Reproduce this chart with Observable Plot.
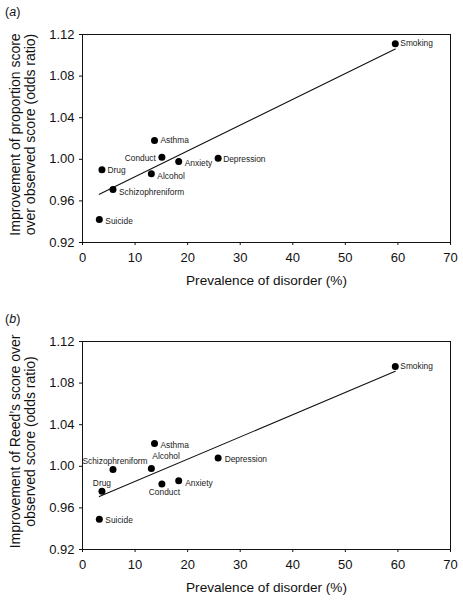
<!DOCTYPE html>
<html>
<head>
<meta charset="utf-8">
<script src="https://cdn.jsdelivr.net/npm/d3@7"></script>
<script src="https://cdn.jsdelivr.net/npm/@observablehq/plot@0.6"></script>
<style>
  html, body { margin: 0; padding: 0; background: #fff; }
  #wrap { position: relative; width: 463px; height: 600px; overflow: hidden; font-family: "Liberation Sans", Arial, sans-serif; }
  .panel { position: absolute; left: 0; width: 463px; }
  .plabel { position: absolute; left: 5px; font-size: 12.5px; color: #111; line-height: 1; }
  svg { display: block; }
</style>
</head>
<body>
<div id="wrap"></div>
<script>
// ---- data ----
const disorders  = ["Smoking", "Asthma", "Conduct", "Anxiety", "Depression", "Drug", "Alcohol", "Schizophreniform", "Suicide"];
const prevalence = [59.5, 13.7, 15.1, 18.3, 25.8, 3.7, 13.1, 5.8, 3.2];
const scoreA     = [1.111, 1.018, 1.002, 0.998, 1.001, 0.990, 0.986, 0.971, 0.942];
const scoreB     = [1.096, 1.022, 0.983, 0.986, 1.008, 0.976, 0.998, 0.997, 0.949];
const xTicks     = [0, 10, 20, 30, 40, 50, 60, 70];
const yTicks     = [0.92, 0.96, 1.00, 1.04, 1.08, 1.12];
const panelTags  = ["a", "b"];
const yTitles    = [
  "Improvement of proportion score\nover observed score (odds ratio)",
  "Improvement of Reed\u2019s score over\nobserved score (odds ratio)"
];
const xTitle = "Prevalence of disorder (%)";

// ---- label placement (style only) ----
const placeA = {
  Smoking: {dx: 5, dy: -1, a: "start"}, Asthma: {dx: 6, dy: 0, a: "start"},
  Conduct: {dx: -6, dy: 1, a: "end"}, Anxiety: {dx: 6, dy: 2, a: "start"},
  Depression: {dx: 5, dy: 1, a: "start"}, Drug: {dx: 5.5, dy: 1, a: "start"},
  Alcohol: {dx: 6, dy: 2, a: "start"}, Schizophreniform: {dx: 6, dy: 3, a: "start"},
  Suicide: {dx: 6, dy: 2, a: "start"}
};
const placeB = {
  Smoking: {dx: 5, dy: 0, a: "start"}, Asthma: {dx: 6, dy: 2, a: "start"},
  Conduct: {dx: 2.5, dy: 8.5, a: "middle"}, Anxiety: {dx: 6.5, dy: 2, a: "start"},
  Depression: {dx: 6.5, dy: 1.5, a: "start"}, Drug: {dx: 0, dy: -8, a: "middle"},
  Alcohol: {dx: 1, dy: -12, a: "start"}, Schizophreniform: {dx: 2, dy: -8, a: "middle"},
  Suicide: {dx: 6, dy: 1, a: "start"}
};

function panel(scores, yTitle, place) {
  const data = disorders.map((d, i) => ({name: d, x: prevalence[i], y: scores[i]}));
  const labelMarks = data.map(d => {
    const p = place[d.name];
    return Plot.text([d], {x: "x", y: "y", text: "name", dx: p.dx, dy: p.dy, textAnchor: p.a,
      fontSize: 8.4, fill: "#222"});
  });
  return Plot.plot({
    width: 463, height: 300,
    marginLeft: 82, marginRight: 13, marginTop: 34, marginBottom: 58,
    style: {fontFamily: "'Liberation Sans', Arial, sans-serif", fontSize: "13px", color: "#111", background: "#fff"},
    x: {domain: [0, 70]},
    y: {domain: [0.92, 1.12]},
    marks: [
      Plot.frame({stroke: "#111", strokeWidth: 1}),
      Plot.axisX({ticks: xTicks, tickSize: 3, tickPadding: 7, label: null, fontSize: 13}),
      Plot.axisY({ticks: yTicks, tickSize: 3, tickPadding: 5, tickFormat: d3.format(".2f"), label: null, fontSize: 13}),
      Plot.linearRegressionY(data, {x: "x", y: "y", ci: 0, stroke: "#111", strokeWidth: 1.1}),
      Plot.dot(data, {x: "x", y: "y", r: 3.5, fill: "#000", stroke: null}),
      ...labelMarks,
      Plot.text([xTitle], {frameAnchor: "bottom", lineAnchor: "middle", textAnchor: "middle", dy: 38, fontSize: 13.6}),
      Plot.text([yTitle], {frameAnchor: "left", lineAnchor: "middle", textAnchor: "middle", rotate: -90,
        dx: -60, dy: -4, fontSize: 14, lineHeight: 1.05})
    ]
  });
}

const wrap = document.getElementById("wrap");
[scoreA, scoreB].forEach((s, i) => {
  const div = document.createElement("div");
  div.className = "panel";
  div.style.top = (i === 0 ? 0 : 307) + "px";
  const tag = document.createElement("div");
  tag.className = "plabel";
  tag.style.top = "6px";
  tag.innerHTML = "(<i>" + panelTags[i] + "</i>)";
  div.appendChild(panel(s, yTitles[i], i === 0 ? placeA : placeB));
  div.appendChild(tag);
  wrap.appendChild(div);
});
</script>
</body>
</html>
